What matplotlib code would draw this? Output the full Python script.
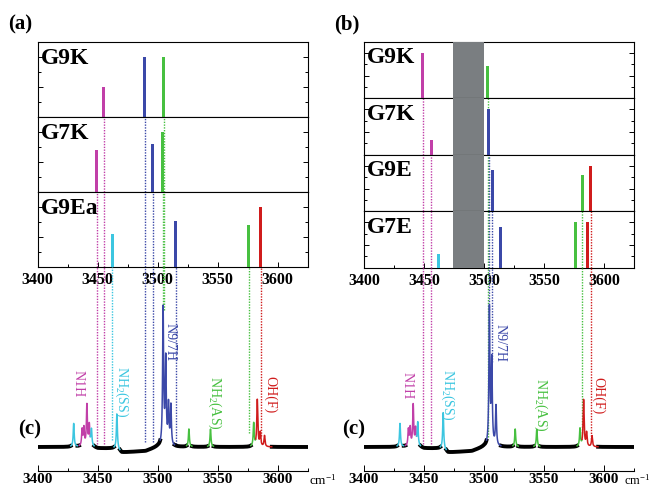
import numpy as np
import matplotlib
matplotlib.use('Agg')
import matplotlib.pyplot as plt
from matplotlib.ticker import MultipleLocator

plt.rcParams['font.family'] = ['Liberation Serif', 'DejaVu Serif']
plt.rcParams['mathtext.default'] = 'regular'

# ---------------- data ----------------
x_range = (3400, 3625)
mode_colors = {'N1H': '#c13fa8', 'NH2SS': '#3cc6e0', 'N97H': '#3b48a8',
               'NH2AS': '#47c040', 'OHF': '#d01c1c'}

# (a) calculated sticks
a_names = ['G9K', 'G7K', 'G9Ea']
a_G9K_freq = [3455, 3489, 3505]
a_G9K_int = [0.50, 1.00, 1.00]
a_G9K_mode = ['N1H', 'N97H', 'NH2AS']
a_G9K_guide_end = [0.02, 0.04, 1.00]
a_G7K_freq = [3449, 3496, 3504]
a_G7K_int = [0.69, 0.80, 1.00]
a_G7K_mode = ['N1H', 'N97H', 'NH2AS']
a_G7K_guide_end = [0.02, 0.04, 1.00]
a_G9Ea_freq = [3462, 3515, 3576, 3586]
a_G9Ea_int = [0.54, 0.76, 0.69, 1.00]
a_G9Ea_mode = ['NH2SS', 'N97H', 'NH2AS', 'OHF']
a_G9Ea_guide_end = [0.05, 0.02, 0.10, 0.08]

# (b) calculated sticks
b_names = ['G9K', 'G7K', 'G9E', 'G7E']
b_G9K_freq = [3449, 3503]
b_G9K_int = [1.00, 0.72]
b_G9K_mode = ['N1H', 'NH2AS']
b_G9K_guide_end = [0.02, 0.07]
b_G7K_freq = [3456, 3504]
b_G7K_int = [0.32, 1.00]
b_G7K_mode = ['N1H', 'N97H']
b_G7K_guide_end = [0.02, 1.00]
b_G9E_freq = [3507, 3582, 3589]
b_G9E_int = [0.91, 0.81, 1.00]
b_G9E_mode = ['N97H', 'NH2AS', 'OHF']
b_G9E_guide_end = [0.62, 0.10, 0.06]
b_G7E_freq = [3462, 3514, 3576, 3586]
b_G7E_int = [0.30, 0.90, 1.00, 1.00]
b_G7E_mode = ['NH2SS', 'N97H', 'NH2AS', 'OHF']
b_G7E_guide_end = [None, None, None, None]
b_gap = (3474, 3500)

# (c) experimental spectrum (peak centres / heights, baseline)
spec_a_pos = [3430, 3437, 3438.5, 3441, 3443, 3444.8, 3466, 3504.5, 3506.7,
              3509, 3511, 3526, 3544, 3580, 3583, 3585.5, 3589]
spec_a_amp = [0.17, 0.12, 0.13, 0.30, 0.15, 0.12, 0.25, 1.00, 0.62,
              0.29, 0.29, 0.13, 0.13, 0.17, 0.34, 0.10, 0.08]
spec_b_pos = [3430, 3437, 3438.5, 3441, 3443, 3444.8, 3466, 3504.5, 3506.5,
              3510, 3526, 3544, 3580, 3583, 3585.5, 3590]
spec_b_amp = [0.17, 0.12, 0.13, 0.30, 0.12, 0.17, 0.26, 1.00, 0.61,
              0.29, 0.13, 0.13, 0.13, 0.34, 0.10, 0.08]
base_x = [3400, 3428, 3446, 3450, 3466, 3470, 3490, 3500, 3625]
base_y = [0.00, 0.00, 0.00, -0.01, -0.01, -0.04, -0.03, 0.00, 0.00]
segments = [(3427.5, 3433, 'NH2SS'), (3434.5, 3443.8, 'N1H'), (3443.8, 3447, 'NH2SS'),
            (3463.5, 3468.5, 'NH2SS'), (3502, 3514, 'N97H'), (3524, 3528.5, 'NH2AS'),
            (3541.5, 3546.5, 'NH2AS'), (3577.5, 3581.6, 'NH2AS'), (3581.6, 3595, 'OHF')]
ann_text = ['N1H', 'NH$_2$(SS)', 'N9/7H', 'NH$_2$(AS)', 'OH(F)']
ann_mode = ['N1H', 'NH2SS', 'N97H', 'NH2AS', 'OHF']
ann_a_x = [3433.6, 3470, 3510.3, 3547.8, 3594]
ann_a_y = [0.46, 0.40, 0.77, 0.32, 0.38]
ann_b_x = [3436, 3470, 3513.3, 3547, 3595]
ann_b_y = [0.45, 0.38, 0.76, 0.31, 0.375]

# ---------------- layout ----------------
W, H = 652, 491
fig = plt.figure(figsize=(W / 100, H / 100), dpi=100)


def fax(x0, y0, x1, y1):
    return fig.add_axes([x0 / W, 1 - y1 / H, (x1 - x0) / W, (y1 - y0) / H])


BASE_PX, UNIT_PX = 447.0, 137.0
AX_BOTTOM_PX = 471.0


def style_spines(ax):
    for s in ax.spines.values():
        s.set_linewidth(0.8)
        s.set_color('black')


def stick_column(x0, x1, top, bottom, names, data, gap=None):
    n = len(names)
    hgt = (bottom - top) / n
    axes = []
    for i in range(n):
        ax = fax(x0, top + i * hgt, x1, top + (i + 1) * hgt)
        axes.append(ax)
        freqs, ints, modes, _ = data[i]
        ax.set_xlim(*x_range)
        ax.set_ylim(0, 1.25)
        ax.bar(freqs, ints, width=2.6, color=[mode_colors[m] for m in modes], zorder=3)
        ax.yaxis.set_major_locator(MultipleLocator(0.5))
        ax.yaxis.set_minor_locator(MultipleLocator(0.25))
        ax.tick_params(axis='y', which='both', direction='in', left=True, right=True,
                       labelleft=False, width=0.7)
        ax.tick_params(axis='y', which='major', length=3.5)
        ax.tick_params(axis='y', which='minor', length=2)
        ax.xaxis.set_major_locator(MultipleLocator(50))
        ax.xaxis.set_minor_locator(MultipleLocator(25))
        if i == n - 1:
            ax.tick_params(axis='x', which='both', direction='in', width=0.7, pad=4,
                           labelsize=11.5)
            ax.tick_params(axis='x', which='major', length=3.5)
            ax.tick_params(axis='x', which='minor', length=2.5)
            for lab in ax.get_xticklabels():
                lab.set_fontweight('bold')
        else:
            ax.tick_params(axis='x', which='both', bottom=False, labelbottom=False)
        style_spines(ax)
        if gap is not None:
            ax.axvspan(*gap, color='#7a7e81', zorder=2.6, lw=0)
        ax.text(0.010, 0.70 if n == 3 else 0.62, names[i], transform=ax.transAxes,
                fontsize=17, fontweight='bold', ha='left', va='baseline', zorder=5)
    # guide lines through the lower panels
    guides = []
    for i in range(n):
        freqs, ints, modes, ends = data[i]
        for f, m, e in zip(freqs, modes, ends):
            if e is None:
                continue
            guides.append((f, mode_colors[m], e))
            for j in range(i + 1, n):
                axes[j].axvline(f, color=mode_colors[m], lw=1.0, ls=(0, (1, 1)), zorder=2)
    return axes, guides


def spectrum_axes(x0, x1, top, guides, pos, amp, ann_x, ann_y):
    ax = fax(x0, top, x1, AX_BOTTOM_PX)
    ax.patch.set_visible(False)
    ax.set_xlim(*x_range)
    ax.set_ylim(-(AX_BOTTOM_PX - BASE_PX) / UNIT_PX, (BASE_PX - top) / UNIT_PX)
    for s in ['top', 'left', 'right']:
        ax.spines[s].set_visible(False)
    ax.spines['bottom'].set_linewidth(0.8)
    ax.set_yticks([])
    ax.xaxis.set_major_locator(MultipleLocator(50))
    ax.xaxis.set_minor_locator(MultipleLocator(25))
    ax.tick_params(axis='x', which='both', direction='in', width=0.7, pad=1.5, labelsize=11)
    ax.tick_params(axis='x', which='major', length=4)
    ax.tick_params(axis='x', which='minor', length=2.5)
    for lab in ax.get_xticklabels():
        lab.set_fontweight('bold')
    ytop = ax.get_ylim()[1]
    for f, c, e in guides:
        ax.vlines(f, e, ytop, color=c, lw=1.0, linestyles=[(0, (1, 1))], zorder=2)
    grid = np.arange(x_range[0], x_range[1] + 0.05, 0.1)
    y = np.interp(grid, base_x, base_y)
    hw = 0.5
    for p, a in zip(pos, amp):
        y = y + a * hw ** 2 / ((grid - p) ** 2 + hw ** 2)
    inside = np.zeros_like(grid, dtype=bool)
    for lo, hi, m in segments:
        inside |= (grid > lo) & (grid < hi)
    yb = np.where(inside, np.nan, y)
    ax.plot(grid, yb, color='black', lw=2.8, zorder=3, solid_joinstyle='round')
    for lo, hi, m in segments:
        sel = (grid >= lo) & (grid <= hi)
        ax.plot(grid[sel], y[sel], color=mode_colors[m], lw=1.1, zorder=4)
    for t, m, xx, yy in zip(ann_text, ann_mode, ann_x, ann_y):
        ax.text(xx, yy, t, rotation=270, color=mode_colors[m], fontsize=10,
                ha='center', va='center', zorder=5)
    return ax


a_data = [(a_G9K_freq, a_G9K_int, a_G9K_mode, a_G9K_guide_end),
          (a_G7K_freq, a_G7K_int, a_G7K_mode, a_G7K_guide_end),
          (a_G9Ea_freq, a_G9Ea_int, a_G9Ea_mode, a_G9Ea_guide_end)]
b_data = [(b_G9K_freq, b_G9K_int, b_G9K_mode, b_G9K_guide_end),
          (b_G7K_freq, b_G7K_int, b_G7K_mode, b_G7K_guide_end),
          (b_G9E_freq, b_G9E_int, b_G9E_mode, b_G9E_guide_end),
          (b_G7E_freq, b_G7E_int, b_G7E_mode, b_G7E_guide_end)]

LX0, LX1 = 37.7, 307.7
RX0, RX1 = 364.0, 634.0
TOP = 41.7
_, a_guides = stick_column(LX0, LX1, TOP, 266.7, a_names, a_data)
_, b_guides = stick_column(RX0, RX1, TOP, 267.7, b_names, b_data, gap=b_gap)
spectrum_axes(LX0, LX1, 266.7, a_guides, spec_a_pos, spec_a_amp, ann_a_x, ann_a_y)
spectrum_axes(RX0, RX1, 267.7, b_guides, spec_b_pos, spec_b_amp, ann_b_x, ann_b_y)

fig.text(8 / W, 1 - 29 / H, '(a)', fontsize=15, fontweight='bold', va='baseline')
fig.text(334 / W, 1 - 29 / H, '(b)', fontsize=15, fontweight='bold', va='baseline')
fig.text(18 / W, 1 - 434 / H, '(c)', fontsize=15, fontweight='bold', va='baseline')
fig.text(342 / W, 1 - 434 / H, '(c)', fontsize=15, fontweight='bold', va='baseline')
fig.text(309 / W, 1 - 485 / H, 'cm$^{-1}$', fontsize=9.5, va='baseline')
fig.text(650 / W, 1 - 485 / H, 'cm$^{-1}$', fontsize=9, va='baseline', ha='right')

fig.savefig('out.png', dpi=100)
